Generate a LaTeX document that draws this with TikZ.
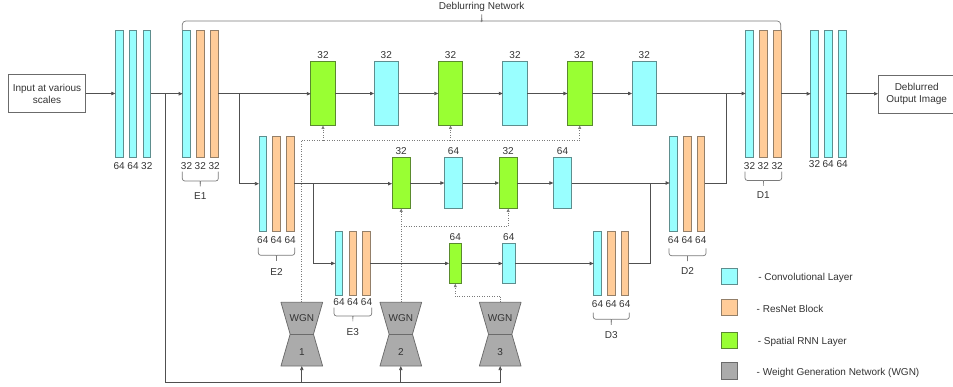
\documentclass[tikz,border=0pt]{standalone}
\usepackage{fontspec}
\setmainfont{Liberation Sans}
\usetikzlibrary{arrows.meta,calc}

\definecolor{convF}{HTML}{99FFFF}
\definecolor{convD}{HTML}{5E8E8E}
\definecolor{resF}{HTML}{FFCC99}
\definecolor{resD}{HTML}{937F69}
\definecolor{rnnF}{HTML}{99FF33}
\definecolor{rnnD}{HTML}{5A8A2E}
\definecolor{wgnF}{HTML}{ABABAB}
\definecolor{wgnD}{HTML}{6B6B6B}
\definecolor{lineC}{HTML}{505050}
\definecolor{dotC}{HTML}{7A7A7A}
\definecolor{braceC}{HTML}{7A7A7A}
\definecolor{textC}{HTML}{333333}

% curly bracket opening upwards: x1, x2, top of arms, horizontal bar, tip
\newcommand\curlybr[5]{%
  \draw[brc] (#1,#3) |- ({(#1+#2)/2-3},#4) .. controls ({(#1+#2)/2},#4) .. ({(#1+#2)/2},#4+3) -- ({(#1+#2)/2},#5);
  \draw[brc] (#2,#3) |- ({(#1+#2)/2+3},#4) .. controls ({(#1+#2)/2},#4) .. ({(#1+#2)/2},#4+3);
}

% hourglass-shaped weight generation network: name, x, number
\newcommand\wgnunit[3]{%
  \node[wgnframe] (#1) at (#2,334.2) {};
  \filldraw[wgnshape] (#1.north west) -- (#1.north east) -- ([xshift=-9.2pt]#1.east)
     -- (#1.south east) -- (#1.south west) -- ([xshift=9.2pt]#1.west) -- cycle;
  \draw[wgnshape] ([xshift=9.2pt]#1.west) -- ([xshift=-9.2pt]#1.east);
  \node[txt] at ([yshift=16.5pt]#1.center) {WGN};
  \node[txt] at ([yshift=-17.5pt]#1.center) {#3};
}

\begin{document}
\begin{tikzpicture}[x=1pt,y=-1pt,
  txt/.style={text=textC, font=\fontsize{10}{12}\selectfont, inner sep=0pt, outer sep=0pt},
  bar/.style={minimum width=7.7pt, inner sep=0pt, outer sep=0pt, line width=0.75pt},
  barT/.style={bar, minimum height=126.5pt},
  barM/.style={bar, minimum height=95.3pt},
  barS/.style={bar, minimum height=63.3pt},
  cellA/.style={minimum width=24.5pt, minimum height=64pt, inner sep=0pt, outer sep=0pt, line width=0.75pt},
  cellB/.style={minimum width=18.3pt, minimum height=51pt, inner sep=0pt, outer sep=0pt, line width=0.75pt},
  cellC/.style={minimum width=12.5pt, minimum height=40.4pt, inner sep=0pt, outer sep=0pt, line width=0.75pt},
  conv/.style={fill=convF, draw=convD},
  resb/.style={fill=resF, draw=resD},
  srnn/.style={fill=rnnF, draw=rnnD},
  iobox/.style={txt, draw=wgnD, line width=0.75pt, minimum width=77.4pt, minimum height=38pt, align=center},
  wgnframe/.style={minimum width=41.7pt, minimum height=63.7pt, inner sep=0pt, outer sep=0pt},
  wgnshape/.style={fill=wgnF, draw=wgnD, line width=0.75pt, line join=round},
  legsq/.style={minimum width=16.3pt, minimum height=16.3pt, inner sep=0pt, line width=0.75pt},
  brc/.style={draw=braceC, line width=0.7pt, rounded corners=2.5pt},
  link/.style={draw=lineC, line width=0.7pt},
  conn/.style={link, -{Triangle[length=4pt,width=3.4pt]}},
  dotc/.style={draw=dotC, line width=0.7pt, dash pattern=on 1pt off 1.5pt},
  dotarr/.style={dotc, -{Triangle[length=3.5pt,width=3pt]}},
]
\useasboundingbox (0,0) rectangle (953,387);

% ---------- input and output ----------
\node[iobox] (inp) at (47,93.5) {Input at various\\scales};
\node[iobox] (outp) at (916.7,94) {Deblurred\\Output Image};

% ---------- full-resolution stacks ----------
\node[barT,conv] (s1a) at (119.2,93.75) {};
\node[barT,conv] (s1b) at (133,93.75) {};
\node[barT,conv] (s1c) at (146.8,93.75) {};
\node[barT,conv] (e1a) at (186.5,93.75) {};
\node[barT,resb] (e1b) at (200.3,93.75) {};
\node[barT,resb] (e1c) at (214.2,93.75) {};
\node[barT,conv] (d1a) at (749.5,93.75) {};
\node[barT,resb] (d1b) at (763.3,93.75) {};
\node[barT,resb] (d1c) at (777.2,93.75) {};
\node[barT,conv] (s2a) at (814.5,93.75) {};
\node[barT,conv] (s2b) at (828.2,93.75) {};
\node[barT,conv] (s2c) at (842.2,93.75) {};

% ---------- half-resolution stacks ----------
\node[barM,conv] (e2a) at (262.8,183.7) {};
\node[barM,resb] (e2b) at (276.3,183.7) {};
\node[barM,resb] (e2c) at (290.2,183.7) {};
\node[barM,conv] (d2a) at (673.5,183.7) {};
\node[barM,resb] (d2b) at (687.2,183.7) {};
\node[barM,resb] (d2c) at (700.8,183.7) {};

% ---------- quarter-resolution stacks ----------
\node[barS,conv] (e3a) at (339,263.4) {};
\node[barS,resb] (e3b) at (352.8,263.4) {};
\node[barS,resb] (e3c) at (366.5,263.4) {};
\node[barS,conv] (d3a) at (597.5,263.4) {};
\node[barS,resb] (d3b) at (611.2,263.4) {};
\node[barS,resb] (d3c) at (624.8,263.4) {};

% channel counts under the stacks
\foreach \n/\v in {s1a/64,s1b/64,s1c/32,e1a/32,e1b/32,e1c/32,d1a/32,d1b/32,d1c/32}
  \node[txt] at ([yshift=-8.7pt]\n.south) {\v};
\foreach \n/\v in {s2a/32,s2b/64,s2c/64}
  \node[txt] at ([yshift=-7pt]\n.south) {\v};
\foreach \n in {e2a,e2b,e2c,d2a,d2b,d2c}
  \node[txt] at ([yshift=-8.7pt]\n.south) {64};
\foreach \n in {e3a,e3b,e3c}
  \node[txt] at ([yshift=-7.3pt]\n.south) {64};
\foreach \n in {d3a,d3b,d3c}
  \node[txt] at ([yshift=-9.3pt]\n.south) {64};

% ---------- recurrent rows ----------
\node[cellA,srnn] (g11) at (323,93.5) {};
\node[cellA,conv] (c11) at (386.3,93.5) {};
\node[cellA,srnn] (g12) at (450.5,93.5) {};
\node[cellA,conv] (c12) at (515,93.5) {};
\node[cellA,srnn] (g13) at (579.7,93.5) {};
\node[cellA,conv] (c13) at (644.3,93.5) {};
\node[cellB,srnn] (g21) at (401.2,183) {};
\node[cellB,conv] (c21) at (453.5,183) {};
\node[cellB,srnn] (g22) at (508.2,183) {};
\node[cellB,conv] (c22) at (562.5,183) {};
\node[cellC,srnn] (g31) at (455.3,263.5) {};
\node[cellC,conv] (c31) at (508.8,263.5) {};

\foreach \n/\v in {g11/32,c11/32,g12/32,c12/32,g13/32,c13/32,g21/32,c21/64,g22/32,c22/64,g31/64,c31/64}
  \node[txt] at ([yshift=6.6pt]\n.north) {\v};

% ---------- weight generation networks ----------
\wgnunit{wgn1}{301.8}{1}
\wgnunit{wgn2}{400.8}{2}
\wgnunit{wgn3}{500.2}{3}

% ---------- brackets ----------
\draw[brc, rounded corners=3.5pt] (182.3,30) |- (478.7,21) .. controls (481.7,21) .. (481.7,18) -- (481.7,15.5);
\draw[brc, rounded corners=3.5pt] (780.7,30) |- (484.7,21) .. controls (481.7,21) .. (481.7,18);
\node[txt] (title) at (481.7,6.5) {Deblurring Network};

\curlybr{182.3}{218.3}{171.7}{181}{186.5}
\node[txt] (lbE1) at (200.3,196.5) {E1};
\curlybr{258.3}{294.7}{247.7}{255.3}{260.5}
\node[txt] (lbE2) at (276.5,272.3) {E2};
\curlybr{334}{371.7}{307.7}{316}{321.5}
\node[txt] (lbE3) at (352.8,332.3) {E3};
\curlybr{593.3}{629.3}{312.7}{319.3}{324.5}
\node[txt] (lbD3) at (611.3,335) {D3};
\curlybr{669}{706}{248.3}{255.7}{261}
\node[txt] (lbD2) at (687.5,271) {D2};
\curlybr{745}{781.7}{171.7}{180.5}{186}
\node[txt] (lbD1) at (763.3,195.5) {D1};

% ---------- main data path ----------
\draw[conn] (inp.east) -- (inp.east -| s1a.west);
\draw[conn] (s1c.east) -- (e1a.west);
\draw[conn] (e1c.east) -- (e1c.east -| g11.west);
\draw[conn] (g11.east) -- (c11.west);
\draw[conn] (c11.east) -- (g12.west);
\draw[conn] (g12.east) -- (c12.west);
\draw[conn] (c12.east) -- (g13.west);
\draw[conn] (g13.east) -- (c13.west);
\draw[conn] (c13.east) -- (c13.east -| d1a.west);
\draw[conn] (d1c.east) -- (s2a.west);
\draw[conn] (s2c.east) -- (s2c.east -| outp.west);

\draw[conn] (e2c.east) -- (e2c.east -| g21.west);
\draw[conn] (g21.east) -- (c21.west);
\draw[conn] (c21.east) -- (g22.west);
\draw[conn] (g22.east) -- (c22.west);
\draw[conn] (c22.east) -- (c22.east -| d2a.west);

\draw[conn] (e3c.east) -- (e3c.east -| g31.west);
\draw[conn] (g31.east) -- (c31.west);
\draw[conn] (c31.east) -- (c31.east -| d3a.west);

% down-sampling and up-sampling links
\coordinate (j1) at (239.3,93.75);
\coordinate (j2) at (313.7,183.7);
\coordinate (j3) at (650,183.7);
\coordinate (j4) at (726.7,93.75);
\draw[conn] (j1) |- (e2a.west);
\draw[conn] (j2) |- (e3a.west);
\draw[link] (d3c.east) -| (j3);
\draw[link] (d2c.east) -| (j4);

% input feed to the weight generation networks
\coordinate (j0) at (165.7,93.75);
\coordinate (jb) at (165.7,382.7);
\draw[conn] (j0) -- (jb) -| (wgn3.south);
\draw[conn] (wgn1.south |- jb) -- (wgn1.south);
\draw[conn] (wgn2.south |- jb) -- (wgn2.south);

% generated weights to the spatial RNN layers
\coordinate (h1) at (301.8,140.7);
\draw[dotc] (wgn1.north) -- (h1);
\draw[dotarr] (h1) -| (g13.south);
\draw[dotarr] (h1 -| g11.south) -- (g11.south);
\draw[dotarr] (h1 -| g12.south) -- (g12.south);
\coordinate (h2) at (401.2,226.7);
\draw[dotarr] (wgn2.north -| g21.south) -- (g21.south);
\draw[dotarr] (h2) -| (g22.south);
\coordinate (h3) at (500.2,296.7);
\draw[dotc] (wgn3.north) -- (h3);
\draw[dotarr] (h3) -| (g31.south);

% ---------- legend ----------
\node[legsq,conv] (lg1) at (729.2,276.3) {};
\node[legsq,resb] (lg2) at (729.2,307.7) {};
\node[legsq,srnn] (lg3) at (729.2,340.3) {};
\node[legsq,fill=wgnF,draw=wgnD] (lg4) at (729.2,371) {};
\node[txt,anchor=west] (lt1) at (758.3,277.7) {- Convolutional Layer};
\node[txt,anchor=west] (lt2) at (756.7,309) {- ResNet Block};
\node[txt,anchor=west] (lt3) at (757.8,342.3) {- Spatial RNN Layer};
\node[txt,anchor=west] (lt4) at (756.7,373) {- Weight Generation Network (WGN)};
\end{tikzpicture}
\end{document}
